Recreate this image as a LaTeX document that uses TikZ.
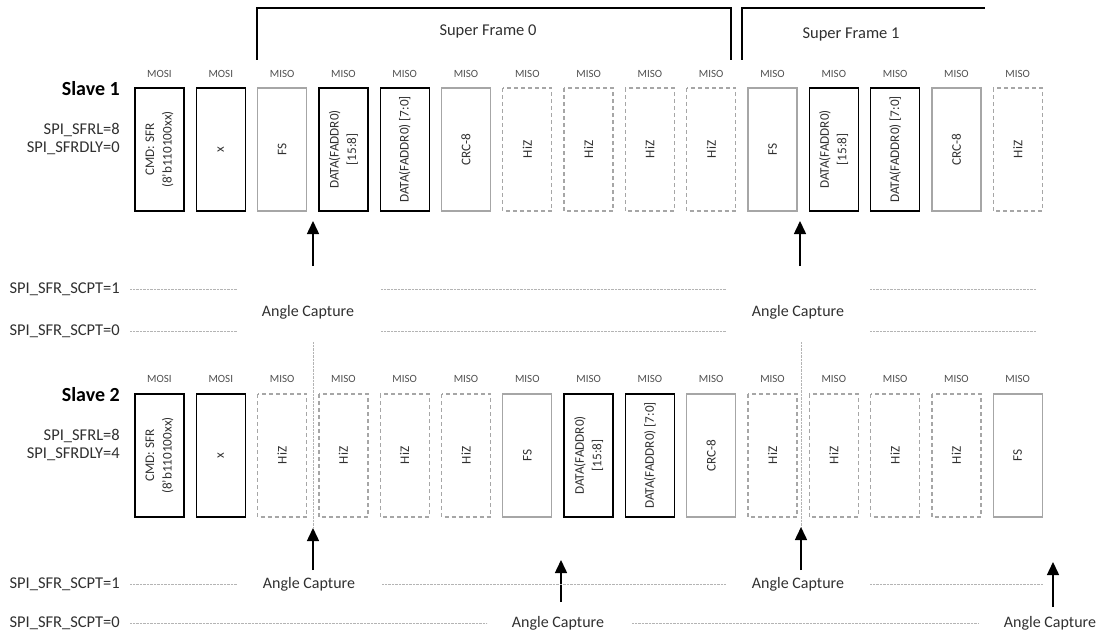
\documentclass[tikz,border=0pt]{standalone}
\usepackage{fontspec}
\setmainfont{Carlito}
\usetikzlibrary{arrows.meta}

\definecolor{frameline}{HTML}{A6A6A6}
\definecolor{guide}{HTML}{B4B4B4}
\definecolor{ink}{HTML}{303030}

\newcommand\slotfont{\fontsize{13.2}{17.5}\selectfont}
\newcommand\busfont{\fontsize{11}{13}\selectfont}
\newcommand\labfont{\fontsize{16.5}{19}\selectfont}
\newcommand\capfont{\fontsize{16}{19}\selectfont}

\tikzset{
  slotbox/.style={rotate=90, minimum width=123pt, minimum height=49pt,
    inner sep=0pt, align=center, font=\slotfont, text=ink, line width=1.3pt},
  blackbox/.style={slotbox, draw=black},
  greybox/.style={slotbox, draw=frameline},
  hizbox/.style={slotbox, draw=frameline, dash pattern=on 4pt off 3pt},
  buslabel/.style={font=\busfont, text=ink!85},
  sidelabel/.style={anchor=east, font=\labfont, text=ink, inner sep=0pt},
  slavename/.style={anchor=east, font=\fontsize{20}{23}\selectfont\bfseries, inner sep=0pt},
  capturetext/.style={font=\capfont, text=ink, inner sep=0pt},
  frametext/.style={font=\fontsize{16.5}{19}\selectfont, text=ink, inner sep=0pt},
  guideline/.style={draw=guide, line width=0.7pt, dash pattern=on 0.8pt off 0.6pt},
  trigger/.style={draw=black, line width=1.5pt, -{Triangle[width=12pt,length=13pt]}},
  bracketline/.style={draw=black, line width=2.4pt},
}

\begin{document}
\begin{tikzpicture}[x=1pt,y=-1pt]
\useasboundingbox (0,0) rectangle (1102,634);

% ---- super frame brackets ----
\draw[bracketline] (257,60) |- (731,8) -- (731,60);
\draw[bracketline] (742,60) |- (985,8);
\node[frametext] (sf0) at (488,31) {Super Frame 0};
\node[frametext] (sf1) at (851,34) {Super Frame 1};

% ---- slave 1 ----
\node[slavename] (s1name) at (120,89) {Slave 1};
\node[sidelabel] (s1rl) at (120,130) {SPI\_SFRL=8};
\node[sidelabel] (s1dly) at (120,148) {SPI\_SFRDLY=0};

\foreach \i/\s/\t in {
  0/blackbox/{CMD: SFR\\(8'b110100xx)},
  1/blackbox/{x},
  2/greybox/{FS},
  3/blackbox/{DATA(FADDR0)\\{[15:8]}},
  4/blackbox/{DATA(FADDR0) [7:0]},
  5/greybox/{CRC-8},
  6/hizbox/{HiZ},
  7/hizbox/{HiZ},
  8/hizbox/{HiZ},
  9/hizbox/{HiZ},
  10/greybox/{FS},
  11/blackbox/{DATA(FADDR0)\\{[15:8]}},
  12/blackbox/{DATA(FADDR0) [7:0]},
  13/greybox/{CRC-8},
  14/hizbox/{HiZ}}{
  \node[\s] (s1c\i) at ({159.5+61.3*\i},149.5) {\t};
}
\foreach \i in {0,...,14}{
  \ifnum\i<2 \def\dir{MOSI}\else\def\dir{MISO}\fi
  \node[buslabel] (s1b\i) at ({159.5+61.3*\i},74) {\dir};
}

% capture points of slave 1
\coordinate (t1a) at (313,266);
\coordinate (h1a) at (313,221);
\coordinate (t1b) at (800,266);
\coordinate (h1b) at (800,221);
\draw[trigger] (t1a) -- (h1a);
\draw[trigger] (t1b) -- (h1b);

\node[sidelabel] (s1one) at (120,289) {SPI\_SFR\_SCPT=1};
\node[sidelabel] (s1zero) at (120,331) {SPI\_SFR\_SCPT=0};
\node[capturetext] (ac1a) at (308,312) {Angle Capture};
\node[capturetext] (ac1b) at (798,312) {Angle Capture};

\foreach \y in {289,331}{
  \draw[guideline] (130,\y) -- (237,\y);
  \draw[guideline] (381,\y) -- (726,\y);
  \draw[guideline] (870,\y) -- (1036,\y);
}

% ---- slave 2 ----
\node[slavename] (s2name) at (120,395) {Slave 2};
\node[sidelabel] (s2rl) at (120,436) {SPI\_SFRL=8};
\node[sidelabel] (s2dly) at (120,454) {SPI\_SFRDLY=4};

\foreach \i/\s/\t in {
  0/blackbox/{CMD: SFR\\(8'b110100xx)},
  1/blackbox/{x},
  2/hizbox/{HiZ},
  3/hizbox/{HiZ},
  4/hizbox/{HiZ},
  5/hizbox/{HiZ},
  6/greybox/{FS},
  7/blackbox/{DATA(FADDR0)\\{[15:8]}},
  8/blackbox/{DATA(FADDR0) [7:0]},
  9/greybox/{CRC-8},
  10/hizbox/{HiZ},
  11/hizbox/{HiZ},
  12/hizbox/{HiZ},
  13/hizbox/{HiZ},
  14/greybox/{FS}}{
  \node[\s] (s2c\i) at ({159.5+61.3*\i},455.5) {\t};
}
\foreach \i in {0,...,14}{
  \ifnum\i<2 \def\dir{MOSI}\else\def\dir{MISO}\fi
  \node[buslabel] (s2b\i) at ({159.5+61.3*\i},379) {\dir};
}

% capture points of slave 2
\coordinate (g1) at (313,342);
\coordinate (g2) at (801,342);
\coordinate (t2a) at (313,570);
\coordinate (h2a) at (313,528);
\coordinate (t2b) at (801,570);
\coordinate (h2b) at (801,527);
\coordinate (t2c) at (561,602);
\coordinate (h2c) at (561,560);
\coordinate (t2d) at (1053,607);
\coordinate (h2d) at (1053,562);
\draw[guideline] (g1) -- (h2a);
\draw[guideline] (g2) -- (h2b);
\draw[trigger] (t2a) -- (h2a);
\draw[trigger] (t2b) -- (h2b);
\draw[trigger] (t2c) -- (h2c);
\draw[trigger] (t2d) -- (h2d);

\node[sidelabel] (s2one) at (120,584) {SPI\_SFR\_SCPT=1};
\node[sidelabel] (s2zero) at (120,623) {SPI\_SFR\_SCPT=0};
\node[capturetext] (ac2a) at (309,584) {Angle Capture};
\node[capturetext] (ac2b) at (798,584) {Angle Capture};
\node[capturetext] (ac2c) at (558,623) {Angle Capture};
\node[capturetext] (ac2d) at (1050,623) {Angle Capture};

\draw[guideline] (130,584) -- (237,584);
\draw[guideline] (382,584) -- (726,584);
\draw[guideline] (870,584) -- (1043,584);
\draw[guideline] (130,623) -- (487,623);
\draw[guideline] (632,623) -- (979,623);

\end{tikzpicture}
\end{document}
